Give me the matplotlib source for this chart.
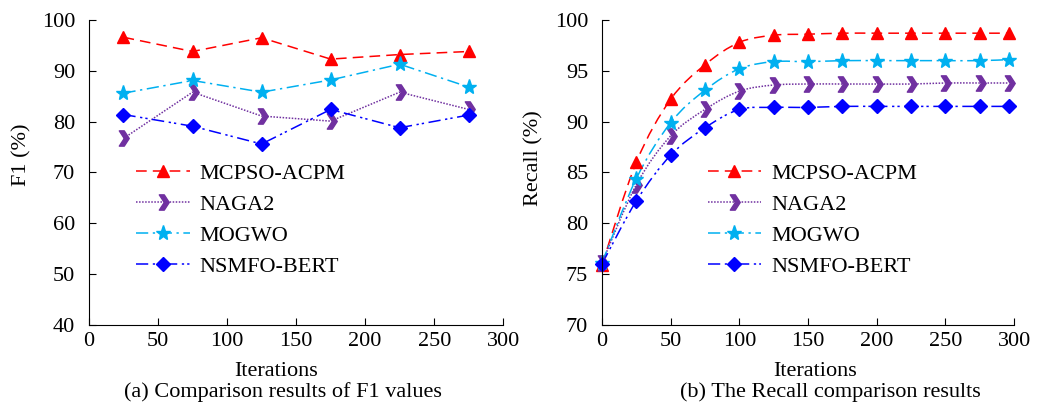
import numpy as np
import matplotlib
matplotlib.use("Agg")
import matplotlib.pyplot as plt
from matplotlib.path import Path
import matplotlib.patches as mpatches
from matplotlib.lines import Line2D

plt.rcParams['font.family'] = ['Liberation Serif', 'DejaVu Serif']

# F1 panel
f1_iters = [25, 75, 125, 175, 225, 275]
f1_mcpso = [96.6, 93.8, 96.5, 92.3, 93.2, 93.8]
f1_naga2 = [76.7, 85.8, 81.1, 80.1, 85.8, 82.4]
f1_mogwo = [85.6, 88.1, 85.8, 88.2, 91.3, 86.8]
f1_nsmfo = [81.4, 79.1, 75.6, 82.4, 78.8, 81.3]

# Recall panel
rec_iters = [0, 25, 50, 75, 100, 125, 150, 175, 200, 225, 250, 275, 296]
rec_mcpso = [75.9, 86.0, 92.2, 95.6, 97.8, 98.5, 98.6, 98.7, 98.7, 98.7, 98.7, 98.7, 98.7]
rec_naga2 = [76.1, 83.8, 88.6, 91.2, 93.0, 93.6, 93.7, 93.7, 93.7, 93.7, 93.8, 93.8, 93.8]
rec_mogwo = [76.1, 84.4, 89.9, 93.1, 95.2, 95.9, 95.9, 96.0, 96.0, 96.0, 96.0, 96.0, 96.1]
rec_nsmfo = [76.0, 82.2, 86.7, 89.4, 91.2, 91.4, 91.4, 91.5, 91.5, 91.5, 91.5, 91.5, 91.5]

names = ['MCPSO-ACPM', 'NAGA2', 'MOGWO', 'NSMFO-BERT']
colors = ['#FF0000', '#7030A0', '#00B0F0', '#0000FF']

# chevron marker like the one Excel uses
chevron = Path([(-0.55, 1.0), (0.1, 1.0), (0.75, 0.0), (0.1, -1.0), (-0.55, -1.0),
                (0.1, 0.0), (-0.55, 1.0)],
               [Path.MOVETO] + [Path.LINETO] * 5 + [Path.CLOSEPOLY])

styles = [
    dict(marker='^', ms=9, dashes=(7, 4)),
    dict(marker=chevron, ms=11, dashes=(1, 1)),
    dict(marker='*', ms=11, dashes=(8, 3, 1.5, 3)),
    dict(marker='D', ms=7, dashes=(8, 3, 1.5, 2, 1.5, 3)),
]


def smooth_path(xs, ys):
    # Catmull-Rom through the points, expressed as cubic bezier segments
    pts = np.column_stack([xs, ys]).astype(float)
    n = len(pts)
    verts = [pts[0]]
    codes = [Path.MOVETO]
    for i in range(n - 1):
        p0 = pts[i - 1] if i > 0 else pts[i]
        p1 = pts[i]
        p2 = pts[i + 1]
        p3 = pts[i + 2] if i + 2 < n else pts[i + 1]
        c1 = p1 + (p2 - p0) / 6.0
        c2 = p2 - (p3 - p1) / 6.0
        verts += [c1, c2, p2]
        codes += [Path.CURVE4] * 3
    return Path(verts, codes)


def draw_panel(ax, xs, series, smooth, ylim, yticks):
    for vals, name, col, st in zip(series, names, colors, styles):
        if smooth:
            patch = mpatches.PathPatch(smooth_path(xs, vals), fill=False, edgecolor=col,
                                       lw=1.1, linestyle=(0, st['dashes']))
            ax.add_patch(patch)
        else:
            ax.plot(xs, vals, color=col, lw=1.1, dashes=st['dashes'])
        ax.plot(xs, vals, linestyle='none', marker=st['marker'], ms=st['ms'],
                color=col, mec=col, clip_on=False)
    ax.set_xlim(0, 300)
    ax.set_ylim(*ylim)
    ax.set_xticks(range(0, 301, 50))
    ax.set_yticks(yticks)
    ax.spines['top'].set_visible(False)
    ax.spines['right'].set_visible(False)
    ax.tick_params(direction='in', length=5, labelsize=16)
    ax.tick_params(axis='x', pad=5)
    ax.tick_params(axis='y', pad=10)
    handles = [Line2D([0], [0], color=c, lw=1.1, dashes=st['dashes'], marker=st['marker'],
                      ms=st['ms'], mec=c) for c, st in zip(colors, styles)]
    ax.legend(handles, names, loc='upper left', frameon=False, fontsize=16,
              handlelength=2.4, labelspacing=0.47, handletextpad=0.45)
    return ax.get_legend()


fig = plt.figure(figsize=(10.37, 4.16), dpi=100)
ax1 = fig.add_axes([0.0858, 0.2188, 0.3995, 0.7332])
ax2 = fig.add_axes([0.5805, 0.2188, 0.3975, 0.7332])

leg1 = draw_panel(ax1, f1_iters, [f1_mcpso, f1_naga2, f1_mogwo, f1_nsmfo], False,
                  (40, 100), range(40, 101, 10))
leg1.set_bbox_to_anchor((0.066, 0.596), transform=ax1.transAxes)

leg2 = draw_panel(ax2, rec_iters, [rec_mcpso, rec_naga2, rec_mogwo, rec_nsmfo], True,
                  (70, 100), range(70, 101, 5))
leg2.set_bbox_to_anchor((0.208, 0.596), transform=ax2.transAxes)

fig.text(0.021, 0.628, 'F1 (%)', rotation=90, ha='center', va='center', fontsize=16)
fig.text(0.515, 0.62, 'Recall (%)', rotation=90, ha='center', va='center', fontsize=16)
fig.text(0.266, 0.106, 'Iterations', ha='center', va='center', fontsize=16)
fig.text(0.786, 0.106, 'Iterations', ha='center', va='center', fontsize=16)
fig.text(0.273, 0.058, '(a) Comparison results of F1 values', ha='center', va='center', fontsize=16)
fig.text(0.801, 0.058, '(b) The Recall comparison results', ha='center', va='center', fontsize=16)

fig.savefig('out.png', dpi=100)
